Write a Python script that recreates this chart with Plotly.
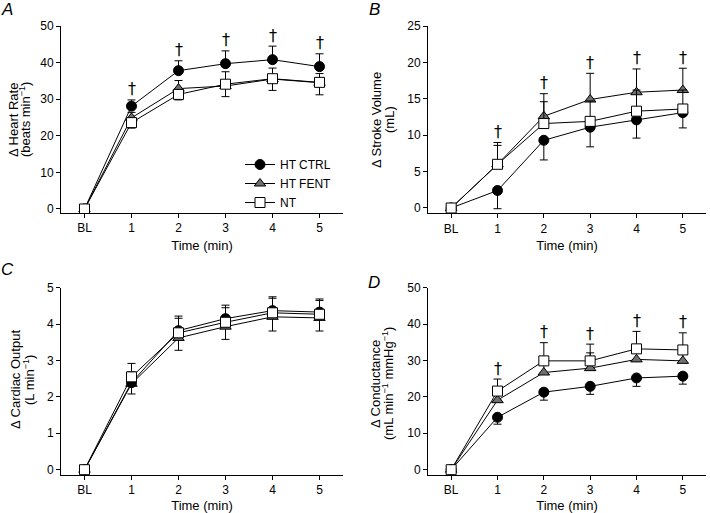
import plotly.graph_objects as go

time_labels = ["BL", "1", "2", "3", "4", "5"]
series_names = ["HT CTRL", "HT FENT", "NT"]

# A - heart rate (beats/min)
hr_ctrl = [0, 28.1, 37.8, 39.7, 40.8, 38.9]
hr_ctrl_err = [0, 1.7, 2.7, 3.5, 3.7, 3.5]
hr_fent = [0, 24.9, 32.9, 33.6, 35.5, 34.5]
hr_fent_err = [0, 1.5, 2.2, 3.9, 3.0, 2.5]
hr_nt = [0, 23.6, 31.3, 34.1, 35.6, 34.6]
hr_nt_err = [0, 1.5, 1.5, 3.4, 3.2, 3.4]

# B - stroke volume (mL)
sv_ctrl = [0, 2.4, 9.3, 11.1, 12.1, 13.1]
sv_ctrl_err = [0, 2.5, 2.7, 2.7, 2.5, 2.1]
sv_fent = [0, 6.0, 12.6, 14.9, 15.9, 16.2]
sv_fent_err = [0, 3.0, 3.1, 3.6, 3.2, 3.0]
sv_nt = [0, 6.0, 11.6, 11.9, 13.3, 13.6]
sv_nt_err = [0, 2.6, 3.0, 2.8, 2.9, 2.6]

# C - cardiac output (L/min)
co_ctrl = [0, 2.39, 3.82, 4.15, 4.37, 4.33]
co_ctrl_err = [0, 0.30, 0.40, 0.37, 0.38, 0.36]
co_fent = [0, 2.36, 3.62, 3.93, 4.20, 4.17]
co_fent_err = [0, 0.28, 0.34, 0.35, 0.39, 0.36]
co_nt = [0, 2.55, 3.76, 4.05, 4.31, 4.27]
co_nt_err = [0, 0.37, 0.40, 0.40, 0.40, 0.38]

# D - conductance (mL/min/mmHg)
gc_ctrl = [0, 14.4, 21.3, 22.9, 25.2, 25.7]
gc_ctrl_err = [0, 1.9, 2.2, 2.2, 2.3, 2.2]
gc_fent = [0, 19.1, 26.7, 27.9, 30.3, 29.9]
gc_fent_err = [0, 3.0, 4.0, 4.2, 3.5, 3.2]
gc_nt = [0, 21.6, 29.9, 29.9, 33.2, 32.9]
gc_nt_err = [0, 3.3, 5.0, 4.6, 4.8, 4.7]

# time points marked with a dagger in each panel
dagger_a = ["1", "2", "3", "4", "5"]
dagger_b = ["1", "2", "3", "4", "5"]
dagger_c = []
dagger_d = ["1", "2", "3", "4", "5"]

FONT = "Liberation Sans, Arial, sans-serif"

styles = {
    "HT CTRL": dict(symbol="circle", size=10, color="black", line=dict(color="black", width=1)),
    "HT FENT": dict(symbol="triangle-up", size=10, color="#6f6f6f", line=dict(color="black", width=1)),
    "NT": dict(symbol="square", size=10, color="white", line=dict(color="black", width=1)),
}


def err_bars(vals, direction):
    zeros = [0] * len(vals)
    return dict(type="data", symmetric=False,
                array=vals if direction == "up" else zeros,
                arrayminus=vals if direction == "down" else zeros,
                color="black", thickness=1, width=4)


panels = [
    # (suffix, data list, error directions, daggers)
    ("", [(hr_fent, hr_fent_err), (hr_ctrl, hr_ctrl_err), (hr_nt, hr_nt_err)],
     ["up", "up", "down"], dagger_a),
    ("2", [(sv_fent, sv_fent_err), (sv_ctrl, sv_ctrl_err), (sv_nt, sv_nt_err)],
     ["up", "down", "up"], dagger_b),
    ("3", [(co_fent, co_fent_err), (co_ctrl, co_ctrl_err), (co_nt, co_nt_err)],
     ["down", "up", "up"], dagger_c),
    ("4", [(gc_fent, gc_fent_err), (gc_ctrl, gc_ctrl_err), (gc_nt, gc_nt_err)],
     ["up", "down", "up"], dagger_d),
]
draw_names = ["HT FENT", "HT CTRL", "NT"]

fig = go.Figure()
annotations = []

for p, (sfx, data, dirs, daggers) in enumerate(panels):
    tops = [0] * len(time_labels)
    for name, (vals, errs), d in zip(draw_names, data, dirs):
        fig.add_trace(go.Scatter(
            x=time_labels, y=vals, name=name, mode="lines+markers",
            line=dict(color="black", width=1),
            marker=styles[name],
            error_y=err_bars(errs, d),
            xaxis="x" + sfx, yaxis="y" + sfx,
            showlegend=False,
        ))
        for i in range(len(vals)):
            top = vals[i] + (errs[i] if d == "up" else 0)
            tops[i] = max(tops[i], top)
    for t in daggers:
        i = time_labels.index(t)
        annotations.append(dict(x=t, y=tops[i], xref="x" + sfx, yref="y" + sfx,
                                text="†", showarrow=False, yanchor="middle",
                                yshift=11, font=dict(size=16, color="black", family="DejaVu Sans")))

# legend entries (panel A order: HT CTRL, HT FENT, NT)
for name in series_names:
    fig.add_trace(go.Scatter(
        x=[None], y=[None], name=name, mode="lines+markers",
        line=dict(color="black", width=1), marker=styles[name],
        xaxis="x", yaxis="y", showlegend=True,
    ))

W, H = 710, 513


def xdom(a, b):
    return [a / W, b / W]


def ydom(bottom, top):
    return [1 - bottom / H, 1 - top / H]


axis_common = dict(showline=True, linecolor="black", linewidth=1, ticks="outside",
                   ticklen=4, tickcolor="black", showgrid=False, zeroline=False,
                   automargin=False,
                   tickfont=dict(size=12, color="black", family=FONT))

# automargin on x axes only so the title standoff is honoured (margins cannot grow: autoexpand off)
xcommon = dict(axis_common, type="category", range=[-0.5, 5.5], automargin=True,
               title=dict(text="Time (min)", font=dict(size=13, color="black", family=FONT), standoff=6))

fig.update_layout(
    xaxis=dict(xcommon, domain=xdom(61, 343), anchor="y"),
    yaxis=dict(axis_common, domain=ydom(213, 26), anchor="x", range=[-1.1, 50], tickvals=[0, 10, 20, 30, 40, 50]),
    xaxis2=dict(xcommon, domain=xdom(428, 706), anchor="y2"),
    yaxis2=dict(axis_common, domain=ydom(213.3, 26), anchor="x2", range=[-0.73, 25], tickvals=[0, 5, 10, 15, 20, 25]),
    xaxis3=dict(xcommon, domain=xdom(61, 343), anchor="y3"),
    yaxis3=dict(axis_common, domain=ydom(475, 287.7), anchor="x3", range=[-0.146, 5], tickvals=[0, 1, 2, 3, 4, 5]),
    xaxis4=dict(xcommon, domain=xdom(428, 706), anchor="y4"),
    yaxis4=dict(axis_common, domain=ydom(475, 287.7), anchor="x4", range=[-1.46, 50], tickvals=[0, 10, 20, 30, 40, 50]),
)

# y axis titles (two lines each) and panel letters
ytitles = [
    ("Δ Heart Rate", "(beats min<sup>−1</sup>)", 13, 25, 120),
    ("Δ Stroke Volume", "(mL)", 376, 389, 120),
    ("Δ Cardiac Output", "(L min<sup>−1</sup>)", 15, 29, 380),
    ("Δ Conductance", "(mL min<sup>−1</sup> mmHg<sup>−1</sup>)", 375, 388, 384),
]
for l1, l2, x1, x2, yc in ytitles:
    for txt, xc in ((l1, x1), (l2, x2)):
        annotations.append(dict(x=xc / W, y=1 - yc / H, xref="paper", yref="paper", text=txt,
                                textangle=-90, showarrow=False, xanchor="center", yanchor="middle",
                                font=dict(size=13, color="black", family=FONT)))

letters = [("A", 7, 9), ("B", 374, 9), ("C", 7, 269), ("D", 374, 282)]
for letter, lx, ly in letters:
    annotations.append(dict(x=lx / W, y=1 - ly / H, xref="paper", yref="paper",
                            text="<i>" + letter + "</i>", showarrow=False,
                            xanchor="center", yanchor="middle",
                            font=dict(size=17, color="black", family=FONT)))

fig.update_layout(
    width=W, height=H, margin=dict(l=0, r=0, t=0, b=0, autoexpand=False),
    paper_bgcolor="white", plot_bgcolor="white",
    annotations=annotations,
    showlegend=True,
    legend=dict(x=240 / W, y=1 - 150 / H, xanchor="left", yanchor="top",
                bgcolor="rgba(0,0,0,0)", tracegroupgap=0, itemwidth=30,
                font=dict(size=12, color="black", family=FONT)),
)

# page body has a default 8px margin; drop it so the figure sits at the top-left corner
fig.write_html("out.html", config={"displayModeBar": False},
               post_script="document.body.style.margin='0px';")
